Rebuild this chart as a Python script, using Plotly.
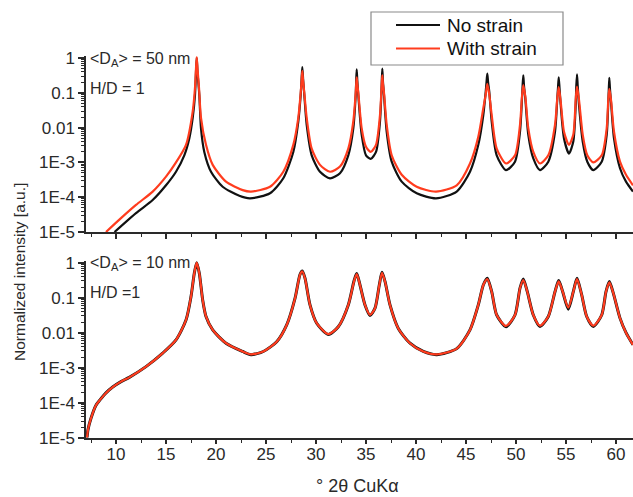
import plotly.graph_objects as go

# ---------------- data ----------------
# top panel: <D_A> = 50 nm
top_x_nostrain = [9.85, 12.0, 13.67, 15.0, 16.0, 16.83, 17.33, 17.67, 17.9, 18.0, 18.07, 18.15, 18.33, 18.5, 18.83,
                  19.5, 20.67, 22.33, 23.4, 25.4, 26.73, 27.73, 28.23, 28.47, 28.56, 28.63, 28.71, 28.83, 29.07,
                  29.57, 30.4, 31.4, 32.4, 33.23, 33.73, 33.97, 34.02, 34.07, 34.13, 34.23, 34.57, 35.0, 35.47,
                  36.0, 36.4, 36.53, 36.58, 36.63, 36.69, 36.8, 37.07, 37.57, 38.57, 40.07, 42.0, 44.07, 45.4,
                  46.23, 46.73, 46.97, 47.05, 47.13, 47.21, 47.33, 47.57, 48.07, 49.0, 49.9, 50.4, 50.6, 50.66,
                  50.73, 50.8, 50.93, 51.23, 51.73, 52.4, 53.23, 53.9, 54.13, 54.2, 54.27, 54.35, 54.47, 54.8,
                  55.3, 55.73, 55.97, 56.03, 56.1, 56.17, 56.3, 56.67, 57.13, 57.73, 58.57, 59.07, 59.23, 59.28,
                  59.33, 59.4, 59.5, 59.8, 60.4, 61.0, 61.7]
top_y_nostrain = [1.0e-5, 3.5e-5, 8.3e-5, 2.2e-4, 5.4e-4, 1.6e-3, 4.9e-3, 0.019, 0.087, 0.4, 1.0, 0.4, 0.087, 9.5e-3, 2.0e-3,
                  5.4e-4, 2.0e-4, 1.1e-4, 9.3e-5, 1.3e-4, 3.5e-4, 2.0e-3, 0.015, 0.087, 0.25, 0.55, 0.25, 0.087, 0.012,
                  1.6e-3, 5.4e-4, 3.5e-4, 4.9e-4, 1.6e-3, 9.5e-3, 0.087, 0.22, 0.47, 0.22, 0.087, 6.2e-3, 1.6e-3, 1.26e-3,
                  2.0e-3, 0.015, 0.087, 0.22, 0.5, 0.22, 0.087, 7.6e-3, 1.05e-3, 2.8e-4, 1.3e-4, 9.3e-5, 1.45e-4, 5.4e-4,
                  3.2e-3, 0.023, 0.107, 0.2, 0.355, 0.2, 0.107, 0.015, 1.6e-3, 6.0e-4, 1.05e-3, 7.6e-3, 0.069, 0.16,
                  0.32, 0.16, 0.069, 6.2e-3, 1.3e-3, 6.0e-4, 1.05e-3, 7.6e-3, 0.069, 0.14, 0.28, 0.14, 0.045, 4.9e-3,
                  1.8e-3, 4.0e-3, 0.045, 0.16, 0.34, 0.16, 0.045, 4.0e-3, 1.05e-3, 6.0e-4, 1.05e-3, 6.2e-3, 0.055, 0.126,
                  0.27, 0.126, 0.055, 4.9e-3, 6.8e-4, 2.8e-4, 1.45e-4]

top_x_strain = [9.0, 10.5, 12.0, 13.67, 15.0, 16.0, 17.0, 17.67, 17.9, 18.0, 18.07, 18.15, 18.3, 18.5, 19.0, 19.67,
                21.0, 22.67, 23.5, 25.4, 26.73, 27.73, 28.23, 28.47, 28.56, 28.63, 28.71, 28.83, 29.07, 29.57, 30.4,
                31.4, 32.4, 33.23, 33.73, 33.97, 34.02, 34.07, 34.13, 34.23, 34.57, 35.0, 35.47, 36.0, 36.4, 36.53,
                36.58, 36.63, 36.69, 36.8, 37.07, 37.57, 38.57, 40.07, 42.0, 44.07, 45.4, 46.23, 46.73, 46.97, 47.13,
                47.33, 47.57, 48.07, 49.0, 49.9, 50.4, 50.6, 50.73, 50.93, 51.23, 51.73, 52.4, 53.23, 53.9, 54.13,
                54.27, 54.47, 54.8, 55.3, 55.73, 55.97, 56.1, 56.3, 56.67, 57.13, 57.73, 58.57, 59.07, 59.23, 59.33,
                59.5, 59.8, 60.4, 61.0, 61.7]
top_y_strain = [1.0e-5, 2.5e-5, 6.0e-5, 1.45e-4, 3.9e-4, 1.0e-3, 3.2e-3, 0.029, 0.14, 0.5, 1.07, 0.5, 0.14, 0.019, 3.2e-3, 8.5e-4,
                2.8e-4, 1.6e-4, 1.45e-4, 2.0e-4, 5.4e-4, 3.2e-3, 0.019, 0.1, 0.22, 0.43, 0.22, 0.1, 0.019, 2.5e-3, 8.5e-4,
                5.4e-4, 7.6e-4, 2.5e-3, 0.015, 0.1, 0.18, 0.28, 0.18, 0.1, 9.5e-3, 2.8e-3, 2.0e-3, 3.2e-3, 0.023, 0.1,
                0.19, 0.32, 0.19, 0.1, 0.012, 1.6e-3, 4.4e-4, 2.0e-4, 1.45e-4, 2.2e-4, 9.3e-4, 5.5e-3, 0.036, 0.089, 0.18,
                0.089, 0.023, 2.5e-3, 9.3e-4, 1.6e-3, 0.012, 0.079, 0.166, 0.079, 9.5e-3, 2.0e-3, 9.3e-4, 1.6e-3, 0.012, 0.07,
                0.145, 0.056, 7.6e-3, 3.2e-3, 6.3e-3, 0.063, 0.15, 0.063, 6.3e-3, 1.6e-3, 1.0e-3, 1.6e-3, 9.5e-3, 0.063, 0.13,
                0.063, 7.6e-3, 1.05e-3, 4.4e-4, 2.2e-4]

# bottom panel: <D_A> = 10 nm
bot_x = [7.1, 7.2, 7.5, 8.0, 8.4, 9.0, 9.67, 10.5, 11.33, 13.0, 14.67, 16.0, 17.0, 17.5, 17.83, 18.07, 18.33, 18.67,
         19.0, 19.67, 21.0, 22.67, 23.5, 24.73, 26.07, 27.07, 27.9, 28.4, 28.63, 28.9, 29.4, 30.07, 31.23, 32.23,
         33.23, 33.8, 34.07, 34.4, 34.9, 35.4, 35.9, 36.33, 36.6, 36.9, 37.4, 38.23, 39.4, 40.73, 42.07, 44.07,
         45.4, 46.23, 46.73, 47.13, 47.57, 48.07, 49.0, 49.9, 50.4, 50.73, 51.13, 51.73, 52.4, 53.23, 53.9, 54.27,
         54.67, 55.23, 55.73, 56.1, 56.57, 57.07, 57.73, 58.57, 59.0, 59.33, 59.73, 60.4, 61.0, 61.7]
bot_y_strain = [1.0e-5, 1.7e-5, 3.6e-5, 8.5e-5, 1.2e-4, 1.9e-4, 2.8e-4, 4.0e-4, 5.3e-4, 1.07e-3, 2.6e-3, 6.2e-3, 0.023, 0.107,
                0.5, 1.0, 0.5, 0.085, 0.029, 0.012, 5.0e-3, 2.9e-3, 2.4e-3, 2.9e-3, 5.5e-3, 0.0166, 0.095, 0.45, 0.56, 0.355,
                0.062, 0.0186, 9.1e-3, 0.0148, 0.062, 0.29, 0.47, 0.23, 0.062, 0.032, 0.05, 0.23, 0.51, 0.29, 0.062, 0.0132,
                5.0e-3, 2.9e-3, 2.4e-3, 3.5e-3, 0.012, 0.062, 0.23, 0.34, 0.148, 0.032, 0.0155, 0.032, 0.186, 0.32, 0.148,
                0.032, 0.0158, 0.029, 0.148, 0.29, 0.148, 0.052, 0.148, 0.34, 0.12, 0.029, 0.0158, 0.032, 0.148, 0.275, 0.135,
                0.026, 0.01, 4.5e-3]
bot_y_nostrain = [1.0e-5, 1.7e-5, 3.6e-5, 8.5e-5, 1.2e-4, 1.9e-4, 2.8e-4, 4.0e-4, 5.3e-4, 1.07e-3, 2.6e-3, 6.2e-3, 0.023, 0.107,
                  0.5, 1.0, 0.5, 0.085, 0.029, 0.012, 5.0e-3, 2.9e-3, 2.35e-3, 2.9e-3, 5.5e-3, 0.0166, 0.095, 0.46, 0.58, 0.36,
                  0.062, 0.0186, 8.9e-3, 0.0148, 0.062, 0.30, 0.49, 0.23, 0.062, 0.031, 0.05, 0.23, 0.53, 0.29, 0.062, 0.0132,
                  5.0e-3, 2.9e-3, 2.35e-3, 3.5e-3, 0.012, 0.062, 0.23, 0.36, 0.148, 0.032, 0.0148, 0.032, 0.186, 0.34, 0.148,
                  0.032, 0.015, 0.029, 0.148, 0.31, 0.148, 0.047, 0.148, 0.36, 0.12, 0.029, 0.015, 0.032, 0.148, 0.29, 0.135,
                  0.026, 0.01, 4.5e-3]

series_names = ["No strain", "With strain"]
series_colors = ["#111111", "#FF3C1E"]
ytick_vals = [1e-5, 1e-4, 1e-3, 0.01, 0.1, 1]
ytick_text = ["1E-5", "1E-4", "1E-3", "0.01", "0.1", "1"]
panel_labels = [["&lt;D<sub>A</sub>&gt; = 50 nm", "H/D = 1"], ["&lt;D<sub>A</sub>&gt; = 10 nm", "H/D =1"]]
x_title = "° 2θ CuKα"
y_title = "Normalized intensity [a.u.]"

# ---------------- figure ----------------
W, H = 633, 497
FONT = "Liberation Sans, Arial, sans-serif"
TXT = "#2a2a2a"

fig = go.Figure()
line_kw = dict(shape="spline", smoothing=0.7)

fig.add_trace(go.Scatter(x=top_x_nostrain, y=top_y_nostrain, mode="lines", name=series_names[0],
                         line=dict(color=series_colors[0], width=2.2, **line_kw), xaxis="x2", yaxis="y2"))
fig.add_trace(go.Scatter(x=top_x_strain, y=top_y_strain, mode="lines", name=series_names[1],
                         line=dict(color=series_colors[1], width=2.2, **line_kw), xaxis="x2", yaxis="y2"))
fig.add_trace(go.Scatter(x=bot_x, y=bot_y_nostrain, mode="lines", name=series_names[0],
                         line=dict(color=series_colors[0], width=3.0, **line_kw), xaxis="x", yaxis="y"))
fig.add_trace(go.Scatter(x=bot_x, y=bot_y_strain, mode="lines", name=series_names[1],
                         line=dict(color=series_colors[1], width=2.2, **line_kw), xaxis="x", yaxis="y"))

# pixel layout (margins are zero, so paper coords == page pixels / size)
L_PX = 86
top_py = (232, 56.3)
bot_py = (437.7, 260.9)
xdom = [L_PX / W, 1.0]
def ydom(p):
    return [1 - p[0] / H, 1 - p[1] / H]

def px_to_paper_x(px):
    return px / W

def py_to_paper_y(py):
    return 1 - py / H

minor_vals = [m * 10 ** e for e in range(-5, 0) for m in range(2, 10)]

xcommon = dict(range=[7, 61.7], domain=xdom, tickmode="linear", tick0=0, dtick=5, ticks="outside", ticklen=5,
               tickwidth=1.5, tickcolor=TXT, showline=True, linecolor=TXT, linewidth=1.5, showgrid=False,
               zeroline=False, automargin=False, ticklabelstandoff=-5,
               minor=dict(dtick=2.5, tick0=0, ticks="outside", ticklen=3.5, tickwidth=1.2, tickcolor=TXT, showgrid=False),
               tickfont=dict(family=FONT, size=17, color=TXT))
ycommon = dict(type="log", range=[-5, 0.05], tickmode="array", tickvals=ytick_vals, ticktext=ytick_text,
               ticks="outside", ticklen=6, tickwidth=1.5, tickcolor=TXT, showline=True, linecolor=TXT, linewidth=1.5,
               showgrid=False, zeroline=False, automargin=False,
               minor=dict(tickmode="array", tickvals=minor_vals, ticks="outside", ticklen=3, tickwidth=1, tickcolor=TXT,
                          showgrid=False),
               tickfont=dict(family=FONT, size=17, color=TXT))

fig.update_layout(
    width=W, height=H, margin=dict(l=0, r=0, t=0, b=0),
    paper_bgcolor="white", plot_bgcolor="white",
    xaxis=dict(anchor="y", **xcommon),
    xaxis2=dict(anchor="y2", matches="x", showticklabels=False, **xcommon),
    yaxis=dict(anchor="x", domain=ydom(bot_py), **ycommon),
    yaxis2=dict(anchor="x2", domain=ydom(top_py), **ycommon),
    font=dict(family=FONT, color=TXT),
    showlegend=False,
)

# legend box drawn in page pixels: border, sample lines and labels
LEG_BOX = (371, 12, 563, 65)
LEG_ROWS = [25, 48.5]
shapes = [dict(type="rect", xref="paper", yref="paper",
               x0=px_to_paper_x(LEG_BOX[0]), x1=px_to_paper_x(LEG_BOX[2]),
               y0=py_to_paper_y(LEG_BOX[3]), y1=py_to_paper_y(LEG_BOX[1]),
               line=dict(color="#8a8a8a", width=1.2), fillcolor="white", layer="above")]
ann = []
for name, color, row in zip(series_names, series_colors, LEG_ROWS):
    shapes.append(dict(type="line", xref="paper", yref="paper",
                       x0=px_to_paper_x(396), x1=px_to_paper_x(440),
                       y0=py_to_paper_y(row), y1=py_to_paper_y(row),
                       line=dict(color=color, width=2.2), layer="above"))
    ann.append(dict(text=name, x=px_to_paper_x(445), y=py_to_paper_y(row), xref="paper", yref="paper",
                    xanchor="left", yanchor="middle", showarrow=False,
                    font=dict(family=FONT, size=19, color="#111111")))

for lab, (y1, y2) in zip(panel_labels, [(59, 88), (263, 292)]):
    ann.append(dict(text=lab[0], x=px_to_paper_x(88), y=py_to_paper_y(y1), xref="paper", yref="paper",
                    xanchor="left", yanchor="middle", showarrow=False, font=dict(family=FONT, size=16, color=TXT)))
    ann.append(dict(text=lab[1], x=px_to_paper_x(88), y=py_to_paper_y(y2), xref="paper", yref="paper",
                    xanchor="left", yanchor="middle", showarrow=False, font=dict(family=FONT, size=16, color=TXT)))
ann.append(dict(text=x_title, x=px_to_paper_x(357), y=py_to_paper_y(486), xref="paper", yref="paper",
                xanchor="center", yanchor="middle", showarrow=False, font=dict(family=FONT, size=18, color=TXT)))
ann.append(dict(text=y_title, x=px_to_paper_x(19), y=py_to_paper_y(272), xref="paper", yref="paper",
                xanchor="center", yanchor="middle", textangle=-90, showarrow=False,
                font=dict(family=FONT, size=15.5, color=TXT)))
fig.update_layout(annotations=ann, shapes=shapes)

fig.write_html("out.html", config={"displayModeBar": False},
               post_script="document.body.style.margin='0';document.body.style.overflow='hidden';")
